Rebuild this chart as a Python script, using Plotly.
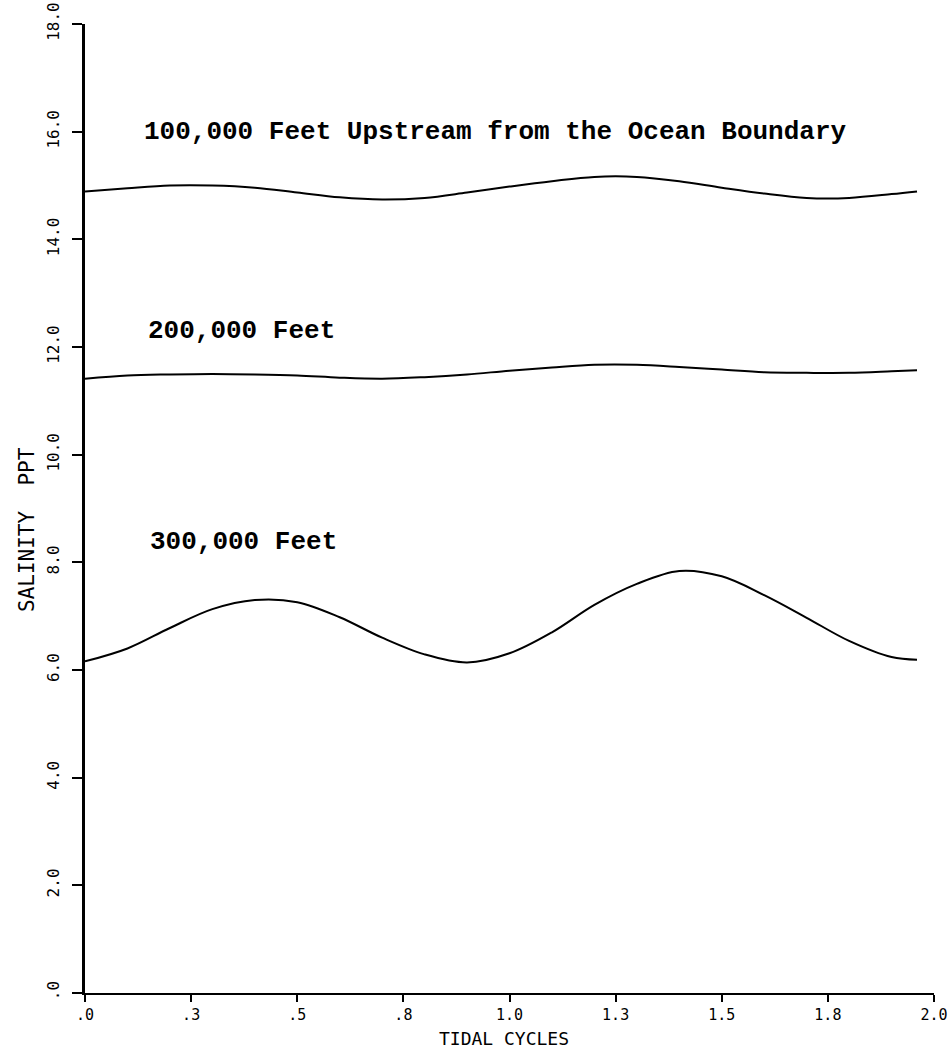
import plotly.graph_objects as go

tidal_cycles = [0.0, 0.1, 0.2, 0.3, 0.4, 0.5, 0.6, 0.7, 0.8, 0.9, 1.0,
                1.1, 1.2, 1.3, 1.4, 1.5, 1.6, 1.7, 1.8, 1.9, 1.96]

salinity_100k = [14.89, 14.95, 15.00, 15.00, 14.96, 14.87, 14.78, 14.74, 14.77, 14.87, 14.98,
                 15.08, 15.16, 15.16, 15.08, 14.96, 14.85, 14.77, 14.77, 14.84, 14.89]
salinity_200k = [11.41, 11.47, 11.49, 11.50, 11.49, 11.47, 11.43, 11.41, 11.44, 11.49, 11.56,
                 11.62, 11.67, 11.67, 11.63, 11.58, 11.53, 11.52, 11.52, 11.55, 11.57]
salinity_300k = [6.16, 6.40, 6.78, 7.13, 7.30, 7.26, 6.98, 6.60, 6.29, 6.14, 6.31,
                 6.70, 7.21, 7.60, 7.84, 7.74, 7.39, 6.97, 6.54, 6.24, 6.19]

series_labels = ["100,000 Feet Upstream from the Ocean Boundary", "200,000 Feet", "300,000 Feet"]
label_x = [0.134, 0.144, 0.148]
label_y = [15.99, 12.30, 8.38]

x_tickvals = [0, 0.25, 0.5, 0.75, 1.0, 1.25, 1.5, 1.75, 2.0]
x_ticktext = [".0", ".3", ".5", ".8", "1.0", "1.3", "1.5", "1.8", "2.0"]
y_tickvals = [0, 2, 4, 6, 8, 10, 12, 14, 16, 18]
y_ticktext = [".0", "2.0", "4.0", "6.0", "8.0", "10.0", "12.0", "14.0", "16.0", "18.0"]

fig = go.Figure()
for ys in (salinity_100k, salinity_200k, salinity_300k):
    fig.add_trace(go.Scatter(x=tidal_cycles, y=ys, mode="lines",
                             line=dict(color="black", width=2, shape="spline", smoothing=1.0),
                             showlegend=False, hoverinfo="skip"))

for txt, lx, ly in zip(series_labels, label_x, label_y):
    fig.add_annotation(x=lx, y=ly, xref="x", yref="y", text="<b>" + txt + "</b>",
                       showarrow=False, xanchor="left", yanchor="middle",
                       font=dict(family="Liberation Mono", size=26, color="black"))

fig.add_annotation(x=(504 - 85) / 849, y=(993 - 1038) / 969, xref="paper", yref="paper",
                   text="TIDAL CYCLES", showarrow=False, xanchor="center", yanchor="middle",
                   font=dict(family="DejaVu Sans Mono", size=18, color="black"))
fig.add_annotation(x=(27 - 85) / 849, y=(993 - 530) / 969, xref="paper", yref="paper",
                   text="SALINITY  PPT", showarrow=False, xanchor="center", yanchor="middle",
                   textangle=-90,
                   font=dict(family="DejaVu Sans Mono", size=21, color="black"))

fig.update_xaxes(range=[0, 2], tickvals=x_tickvals, ticktext=x_ticktext,
                 showline=True, linecolor="black", linewidth=2,
                 ticks="outside", ticklen=7, tickwidth=2, tickcolor="black",
                 showgrid=False, zeroline=False, ticklabelstandoff=0, automargin=False,
                 tickfont=dict(family="DejaVu Sans Mono", size=15, color="black"))
fig.update_yaxes(range=[0, 18], tickvals=y_tickvals, ticktext=y_ticktext,
                 showline=True, linecolor="black", linewidth=3,
                 ticks="outside", ticklen=10, tickwidth=2, tickcolor="black",
                 showgrid=False, zeroline=False, tickangle=-90, ticklabelstandoff=7,
                 automargin=False,
                 tickfont=dict(family="DejaVu Sans Mono", size=16, color="black"))

fig.update_layout(width=951, height=1050, autosize=False,
                  margin=dict(l=85, r=17, t=24, b=57),
                  plot_bgcolor="white", paper_bgcolor="white")

fig.write_html("out.html")
